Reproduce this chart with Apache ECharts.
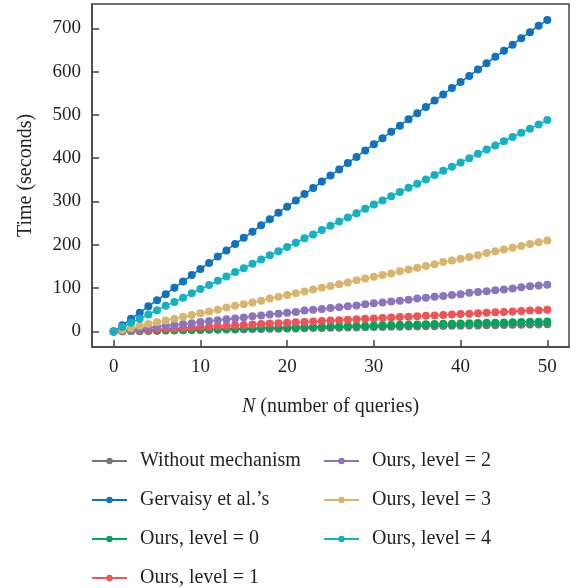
<!DOCTYPE html>
<html>
<head>
<meta charset="utf-8">
<script src="https://cdn.jsdelivr.net/npm/echarts@6/dist/echarts.min.js"></script>
<style>html,body{margin:0;padding:0;background:#fff;}#c{width:576px;height:588px;}</style>
</head>
<body>
<div id="c"></div>
<script>
var queries = [0,1,2,3,4,5,6,7,8,9,10,11,12,13,14,15,16,17,18,19,20,21,22,23,24,25,26,27,28,29,30,31,32,33,34,35,36,37,38,39,40,41,42,43,44,45,46,47,48,49,50];
var withoutMechanism = [0,0.3,0.7,1.0,1.3,1.7,2.0,2.3,2.6,3.0,3.3,3.6,4.0,4.3,4.6,5.0,5.3,5.6,5.9,6.3,6.6,6.9,7.3,7.6,7.9,8.3,8.6,8.9,9.2,9.6,9.9,10.2,10.6,10.9,11.2,11.6,11.9,12.2,12.5,12.9,13.2,13.5,13.9,14.2,14.5,14.9,15.2,15.5,15.8,16.2,16.5];
var gervaisy = [0,14,29,43,58,72,86,101,115,130,144,158,173,187,202,216,230,245,259,274,288,302,317,331,346,360,374,389,403,418,432,446,461,475,490,504,518,533,547,562,576,590,605,619,634,648,662,677,691,706,719];
var level0 = [0,0.5,0.9,1.4,1.8,2.3,2.8,3.2,3.7,4.1,4.6,5.1,5.5,6.0,6.4,6.9,7.4,7.8,8.3,8.7,9.2,9.7,10.1,10.6,11.0,11.5,12.0,12.4,12.9,13.3,13.8,14.3,14.7,15.2,15.6,16.1,16.6,17.0,17.5,17.9,18.4,18.9,19.3,19.8,20.2,20.7,21.2,21.6,22.1,22.5,23.0];
var level1 = [0,1,2,3,4,5,6,7,8,9,10,11,12,13,14,15,16,17,18,19,20,21,22,23,24,25,26,27,28,29,30,31,32,33,34,35,36,37,38,39,40,41,42,43,44,45,46,47,48,49,50];
var level2 = [0,2,4,6,9,11,13,15,17,19,22,24,26,28,30,32,35,37,39,41,43,45,48,50,52,54,56,58,60,63,65,67,69,71,73,76,78,80,82,84,86,89,91,93,95,97,99,102,104,106,108];
var level3 = [0,4,8,13,17,21,25,29,34,38,42,46,50,55,59,63,67,71,76,80,84,88,92,97,101,105,109,113,118,122,126,130,134,139,143,147,151,155,160,164,168,172,176,181,185,189,193,197,202,206,210];
var level4 = [0,10,20,29,39,49,59,68,78,88,98,107,117,127,137,146,156,166,176,185,195,205,215,224,234,244,254,263,273,283,293,302,312,322,332,341,351,361,371,380,390,400,410,420,429,439,449,459,468,478,488];
var xTicks = [0,10,20,30,40,50];
var yTicks = [0,100,200,300,400,500,600,700];
var seriesNames = ['Without mechanism','Gervaisy et al.\u2019s','Ours, level = 0','Ours, level = 1','Ours, level = 2','Ours, level = 3','Ours, level = 4'];
var seriesData = [withoutMechanism, gervaisy, level0, level1, level2, level3, level4];
var colors = ['#767676','#0d72c0','#00a45c','#f05355','#8a75bd','#d9b46d','#12b2c3'];

var font = '"Liberation Serif", "DejaVu Serif", serif';
var txt = '#231f20';

var chart = echarts.init(document.getElementById('c'), null, {renderer:'canvas'});
var series = seriesNames.map(function(n, i){
  return {
    name: n, type: 'line',
    data: queries.map(function(q, j){ return [q, seriesData[i][j]]; }),
    symbol: 'circle', symbolSize: 8, showSymbol: true,
    lineStyle: {width: 1.5, color: colors[i]},
    itemStyle: {color: colors[i]},
    animation: false
  };
});
var legendCommon = {orient: 'vertical', top: 451, padding: 0, itemWidth: 35, itemHeight: 8, itemGap: 19,
  textStyle: {fontFamily: font, fontSize: 20, lineHeight: 20, color: txt, padding: [0,0,0,8]}};
chart.setOption({
  animation: false,
  color: colors,
  grid: {left: 92, right: 7, top: 4, bottom: 241, show: true, borderColor: '#444', borderWidth: 1.5, containLabel: false},
  xAxis: {
    type: 'value', min: -2.5, max: 52.5,
    name: '{i|N} (number of queries)', nameLocation: 'middle', nameGap: 50,
    nameTextStyle: {fontFamily: font, fontSize: 20, color: txt, rich: {i: {fontStyle: 'italic', fontFamily: font, fontSize: 20, color: txt}}},
    axisLine: {show: true, onZero: false, lineStyle: {color: '#444', width: 1.5}},
    axisTick: {show: true, inside: true, length: 7, lineStyle: {color: '#444', width: 1.5}, customValues: xTicks},
    axisLabel: {fontFamily: font, fontSize: 19, color: txt, margin: 11, customValues: xTicks},
    splitLine: {show: false}
  },
  yAxis: {
    type: 'value', min: -36, max: 756,
    name: 'Time (seconds)', nameLocation: 'middle', nameGap: 56,
    nameTextStyle: {fontFamily: font, fontSize: 20, color: txt},
    axisLine: {show: true, onZero: false, lineStyle: {color: '#444', width: 1.5}},
    axisTick: {show: true, inside: true, length: 7, lineStyle: {color: '#444', width: 1.5}, customValues: yTicks},
    axisLabel: {fontFamily: font, fontSize: 19, color: txt, margin: 11, customValues: yTicks},
    splitLine: {show: false}
  },
  legend: [
    Object.assign({data: seriesNames.slice(0,4), left: 91}, legendCommon),
    Object.assign({data: seriesNames.slice(4), left: 323}, legendCommon)
  ],
  series: series
});
</script>
</body>
</html>
